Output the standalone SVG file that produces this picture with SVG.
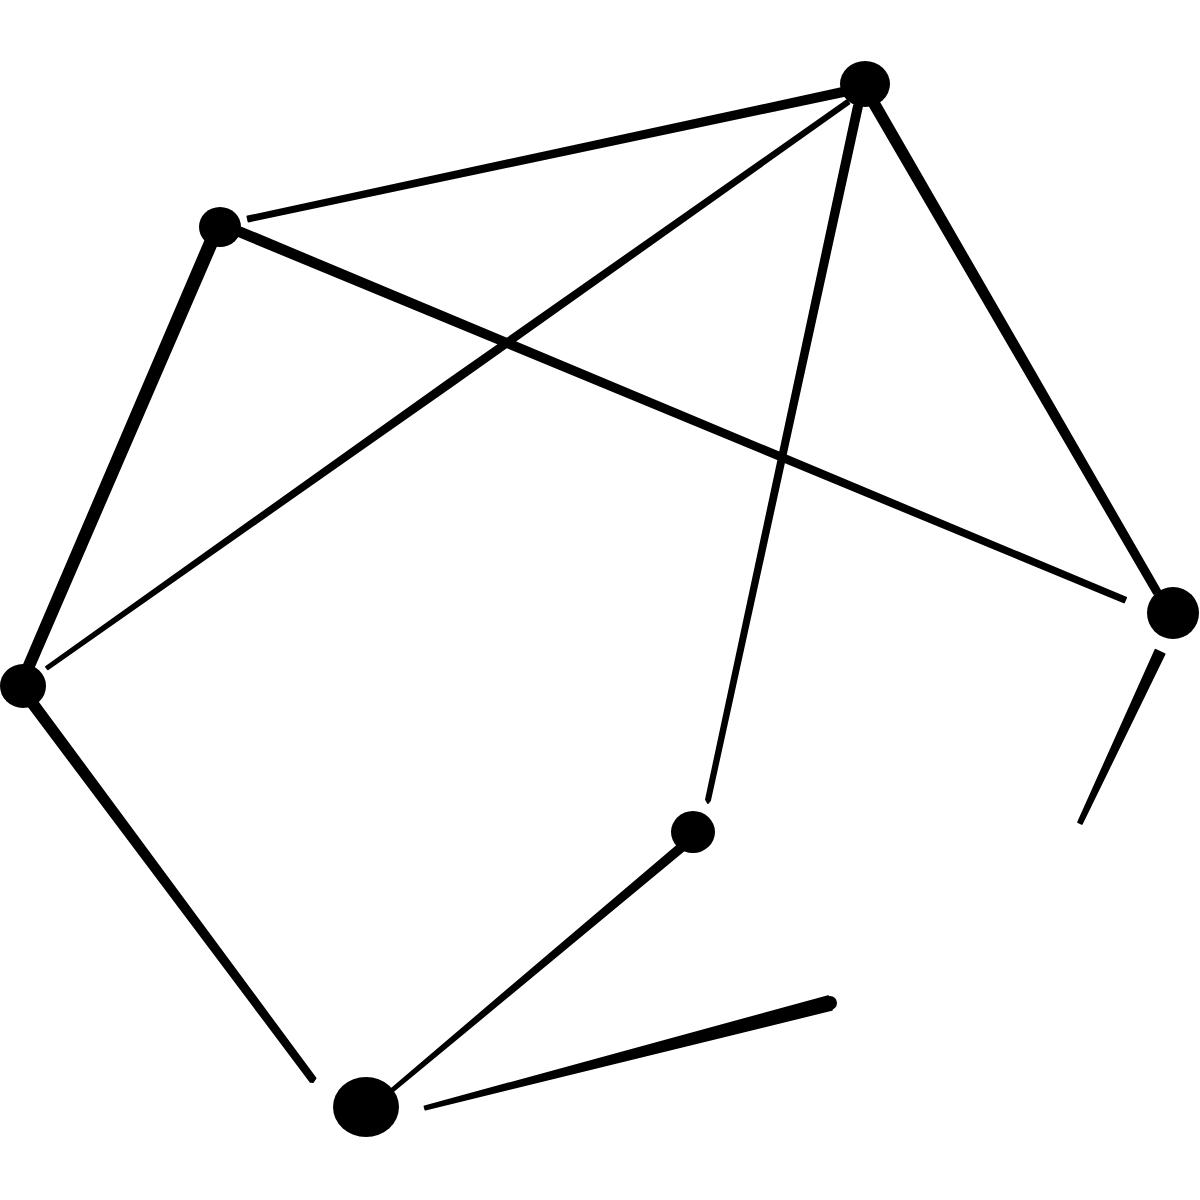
<svg xmlns="http://www.w3.org/2000/svg" width="1200" height="1200" viewBox="0 0 1200 1200">
<style>
.e{fill:#000;stroke:#000;stroke-width:2;stroke-linejoin:round}
.n{fill:#000}
</style>
<rect width="1200" height="1200" fill="#fff"/>
<g id="connectors">
<polygon class="e" points="842.2,88.1 247.5,216.6 248.5,221.4 843.8,95.9"/>
<polygon class="e" points="238.3,236.2 241.7,227.8 1126,597.7 1124,602.3"/>
<polygon class="e" points="846.8,100.4 448,380.1 46.1,666.8 47.9,669.2 452,385.9 849.2,103.6"/>
<polygon class="e" points="854.1,105.2 861.9,106.8 710,800.4 708,803 706,799.6"/>
<polygon class="e" points="867.7,102.5 876.3,97.5 1160,590.2 1154,593.8"/>
<polygon class="e" points="207.5,235.6 218.5,240.4 32.6,670 23.4,666"/>
<polygon class="e" points="26,703 34,697 315.4,1078.2 313,1082 310.6,1081.8"/>
<polygon class="e" points="680.4,842.9 389,1090.9 391,1093.1 685.6,849.1"/>
<polygon class="e" points="424.6,1106.5 828.2,996.2 831.8,1009.8 425.4,1109.5"/>
<circle cx="830" cy="1003" r="7" class="n"/>
<polygon class="e" points="1155.5,649.9 1164.5,654.1 1081.8,823.8 1078.2,822.2"/>
</g>
<g id="node-a"><ellipse cx="865" cy="84" rx="25" ry="23" class="n"/></g>
<g id="node-b"><ellipse cx="220" cy="227" rx="21" ry="20" class="n"/></g>
<g id="node-c"><ellipse cx="23" cy="686" rx="23" ry="22" class="n"/></g>
<g id="node-d"><ellipse cx="1173" cy="613" rx="26" ry="26" class="n"/></g>
<g id="node-e"><ellipse cx="693" cy="832" rx="22" ry="21" class="n"/></g>
<g id="node-f"><ellipse cx="366" cy="1107" rx="33" ry="30" class="n"/></g>
</svg>
